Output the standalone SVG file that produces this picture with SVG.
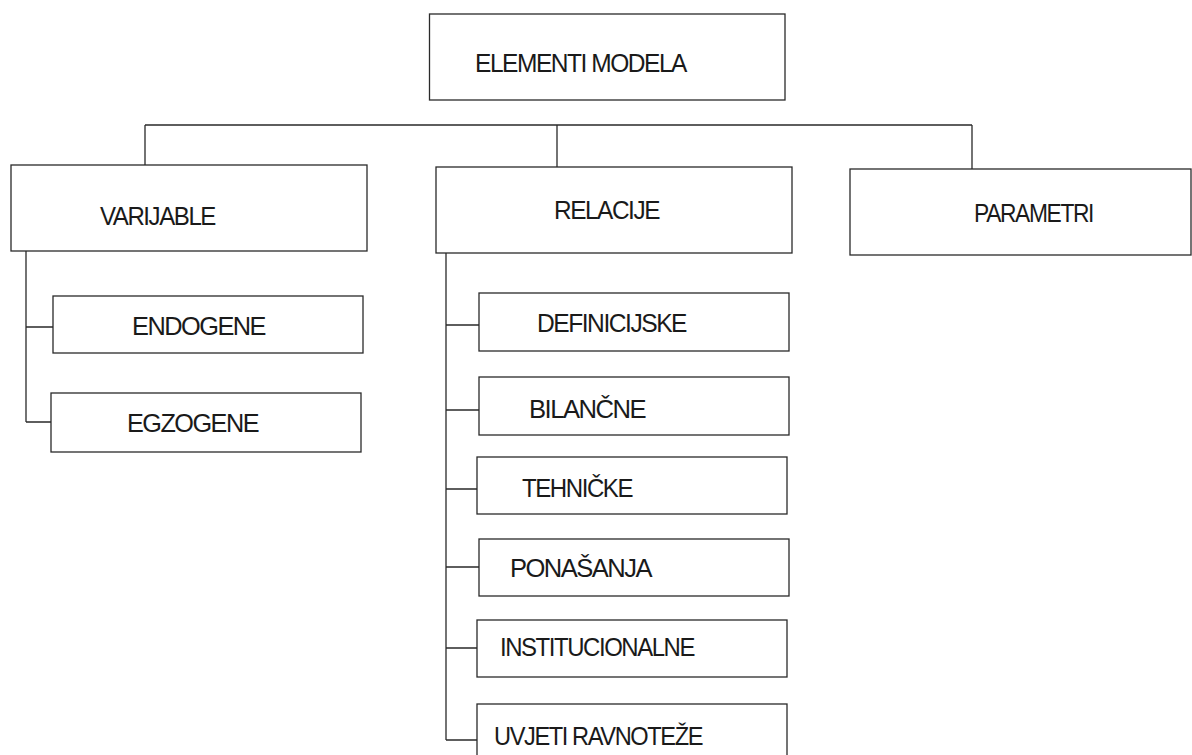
<svg xmlns="http://www.w3.org/2000/svg" width="1192" height="755" viewBox="0 0 1192 755">
<style>
.box{fill:#fff;stroke:#2a2a2a;stroke-width:1.3}
.ln{fill:none;stroke:#2a2a2a;stroke-width:1.3}
text{font-family:"Liberation Sans",Arial,sans-serif;font-size:25px;letter-spacing:-1.5px;fill:#1a1a1a}
</style>
<rect width="1192" height="755" fill="#fff"/>
<g id="connectors">
<path class="ln" d="M145,125 H972 M145,125 V165 M557,125 V167 M972,125 V169"/>
<path class="ln" d="M26,251 V422 M26,327 H53 M26,422 H51"/>
<path class="ln" d="M446,253 V740 M446,325 H479 M446,410 H479 M446,489 H477 M446,567 H479 M446,648 H477 M446,740 H477"/>
</g>
<g id="n-elementi"><rect class="box" x="429.5" y="14" width="355.5" height="86"/><text x="475" y="72" textLength="211" lengthAdjust="spacingAndGlyphs">ELEMENTI MODELA</text></g>
<g id="n-varijable"><rect class="box" x="11" y="165" width="356" height="86"/><text x="100" y="225" textLength="115" lengthAdjust="spacingAndGlyphs">VARIJABLE</text></g>
<g id="n-relacije"><rect class="box" x="436" y="167" width="356" height="86"/><text x="554" y="219" textLength="105" lengthAdjust="spacingAndGlyphs">RELACIJE</text></g>
<g id="n-parametri"><rect class="box" x="850" y="169" width="341" height="86"/><text x="974" y="222" textLength="119" lengthAdjust="spacingAndGlyphs">PARAMETRI</text></g>
<g id="n-endogene"><rect class="box" x="53" y="296" width="310" height="57"/><text x="132" y="335" textLength="133" lengthAdjust="spacingAndGlyphs">ENDOGENE</text></g>
<g id="n-egzogene"><rect class="box" x="51" y="393" width="310" height="59"/><text x="127" y="432" textLength="131" lengthAdjust="spacingAndGlyphs">EGZOGENE</text></g>
<g id="n-definicijske"><rect class="box" x="479" y="293" width="310" height="58"/><text x="537" y="332" textLength="149" lengthAdjust="spacingAndGlyphs">DEFINICIJSKE</text></g>
<g id="n-bilancne"><rect class="box" x="479" y="377" width="310" height="58"/><text x="529" y="418" textLength="116" lengthAdjust="spacingAndGlyphs">BILANČNE</text></g>
<g id="n-tehnicke"><rect class="box" x="477" y="457" width="310" height="57"/><text x="522" y="497" textLength="110" lengthAdjust="spacingAndGlyphs">TEHNIČKE</text></g>
<g id="n-ponasanja"><rect class="box" x="479" y="539" width="310" height="57"/><text x="510" y="577" textLength="141" lengthAdjust="spacingAndGlyphs">PONAŠANJA</text></g>
<g id="n-institucionalne"><rect class="box" x="477" y="620" width="310" height="57"/><text x="500" y="656" textLength="194" lengthAdjust="spacingAndGlyphs">INSTITUCIONALNE</text></g>
<g id="n-uvjeti"><rect class="box" x="477" y="704" width="310" height="60"/><text x="494" y="745" textLength="208" lengthAdjust="spacingAndGlyphs">UVJETI RAVNOTEŽE</text></g>
</svg>
